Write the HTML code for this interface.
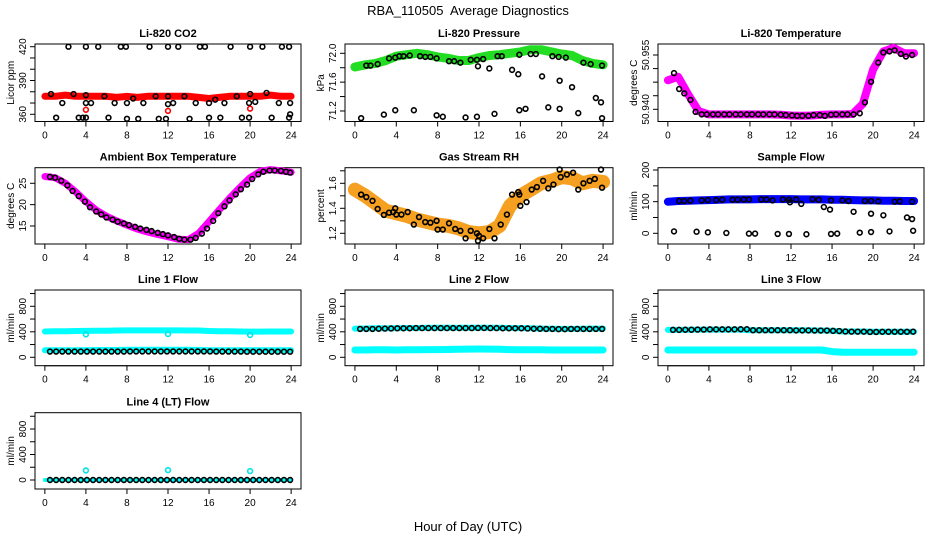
<!DOCTYPE html>
<html><head><meta charset="utf-8"><style>
html,body{margin:0;padding:0;background:#fff;}
svg{display:block;font-family:"Liberation Sans",sans-serif;}
</style></head><body>
<svg id="chart" width="936" height="540" viewBox="0 0 936 540" xmlns="http://www.w3.org/2000/svg">
<text x="468" y="15" text-anchor="middle" font-size="13" style="white-space:pre">RBA_110505  Average Diagnostics</text>
<text x="468" y="531" text-anchor="middle" font-size="13">Hour of Day (UTC)</text>
</svg>
<script>
// ---------- data ----------
const hourTicks = [0,4,8,12,16,20,24];
const bandHours = [0,1,2,3,4,5,6,7,8,9,10,11,12,13,14,15,16,17,18,19,20,21,22,23,24];
const evenHours = [0.5,1.1,1.7,2.3,2.9,3.5,4.1,4.7,5.3,5.9,6.5,7.1,7.7,8.3,8.9,9.5,10.1,10.7,11.3,11.9,12.5,13.1,13.7,14.3,14.9,15.5,16.1,16.7,17.3,17.9,18.5,19.1,19.7,20.3,20.9,21.5,22.1,22.7,23.3,23.9];

// CO2
const co2Band = [376,376,377,376,376,376,376,375,376,375,376,376,376,376,376,375,374,375,376,376,376,376,377,376,376];
const co2TopHours = [2.3,4,5.2,7.4,7.9,10.2,12,13,15.1,15.6,18.1,20,21.2,23.1,23.8];
const co2TopVals = [420,420,420,420,420,420,420,420,420,420,420,420,420,420,420];
const co2MidHours = [0.6,2.8,4,5.8,8.6,10.8,12,13.6,16.6,18.7,20,21.6];
const co2MidVals = [378,378,377,376,374,376,376,376,373,376,378,379];
const co2LowHours = [1.7,4,4.5,6.8,8,9.6,12,12.5,14.7,16,17.5,19.9,20.5,22.8,23.9];
const co2LowVals = [370,370,370,370,370,370,369,370,370,370,370,370,371,370,370];
const co2BotHours = [1.1,3.3,3.7,4,6.2,8,9.1,11.1,11.8,14.1,16,17.1,19.2,19.9,22.1,23.8,23.9];
const co2BotVals = [357,357,357,357,357,356,356,356,356,356,357,357,357,357,357,357,360];
const co2RedHours = [4,12,20];
const co2RedVals = [364,363,365];

// Pressure
const presBand = [71.81,71.84,71.86,71.9,71.96,71.98,72.0,71.98,71.95,71.93,71.9,71.9,71.94,71.97,71.98,72.0,72.02,72.05,72.05,72.02,71.99,71.97,71.9,71.86,71.84];
const presOnHours = [1.1,1.5,2.2,3.3,3.9,4.3,4.7,5.3,6.3,6.8,7.3,7.9,9.1,9.6,10.2,11.2,11.8,12.4,13.8,14.2,15.9,17,17.5,19.1,19.7,20.4,22.1,22.8,23.9];
const presOnVals = [71.83,71.83,71.85,71.93,71.94,71.96,71.96,71.97,71.96,71.95,71.95,71.93,71.89,71.89,71.87,71.91,71.91,71.92,71.96,71.96,71.98,71.99,71.99,71.96,71.95,71.94,71.87,71.85,71.83];
const presOffHours = [11.9,13,15.2,15.8,18.1,19.8,21,23.3,23.8];
const presOffVals = [71.82,71.79,71.77,71.71,71.68,71.62,71.53,71.38,71.32];
const presLowHours = [0.6,2.8,3.9,5.7,7.9,8.5,10.7,11.8,13.5,15.9,16.5,18.7,19.8,21.6,23.9];
const presLowVals = [71.1,71.15,71.21,71.21,71.14,71.12,71.11,71.12,71.16,71.21,71.23,71.25,71.23,71.17,71.1];

// Li-820 Temperature
const tempBand = [50.948,50.949,50.944,50.9395,50.9386,50.9386,50.9386,50.9386,50.9386,50.9386,50.9386,50.9385,50.9383,50.9382,50.9383,50.9385,50.9386,50.9386,50.9387,50.9415,50.951,50.956,50.957,50.9555,50.9555];
const tempPtHours = [0.6,1.1,1.6,2.2,2.7,3.3,3.8,4.4,4.9,5.5,6.0,6.6,7.1,7.7,8.2,8.8,9.3,9.9,10.4,11.0,11.5,12.1,12.6,13.1,13.7,14.2,14.8,15.3,15.9,16.4,17.0,17.5,18.1,18.7,19.2,19.8,20.5,21.0,21.6,22.1,22.7,23.2,23.8];
const tempPtVals = [50.950,50.9456,50.9444,50.9426,50.9393,50.9386,50.9386,50.9386,50.9386,50.9386,50.9386,50.9386,50.9386,50.9386,50.9386,50.9386,50.9386,50.9386,50.9386,50.9385,50.9384,50.9383,50.9382,50.9382,50.9382,50.9384,50.9384,50.9382,50.9385,50.9386,50.9386,50.9386,50.9386,50.9389,50.9419,50.9476,50.9529,50.9557,50.956,50.9563,50.9553,50.9546,50.955];

// Ambient box temperature
const ambBand = [26.6,26.3,25,23,20.7,18.7,17.3,16.2,15.2,14.3,13.6,13,12.5,11.9,11.8,13.3,16,18.8,21.5,24,26.3,27.8,28.2,27.9,27.6];
const ambPtHours = [0.5,1,1.6,2.2,2.7,3.3,3.9,4.4,5,5.5,6,6.6,7.1,7.7,8.2,8.8,9.3,9.9,10.4,11,11.5,12,12.6,13.1,13.6,14.2,14.7,15.3,15.8,16.4,16.9,17.5,18,18.6,19.1,19.7,20.2,20.8,21.3,21.9,22.4,23,23.5,23.9];
const ambPtVals = [26.5,26.3,25.6,24.5,23.2,22,20.7,19.4,18.4,17.7,17,16.5,16,15.6,15.2,14.8,14.4,14.1,13.8,13.4,13.1,12.8,12.4,12,11.8,11.8,12.2,13.2,14.4,16.2,18,19.6,21,22.4,23.6,24.7,26,27.1,27.7,28,28,27.9,27.7,27.5];

// Gas stream RH
const rhBand = [1.55,1.5,1.44,1.38,1.36,1.34,1.31,1.29,1.27,1.26,1.24,1.21,1.2,1.21,1.26,1.42,1.5,1.55,1.6,1.62,1.65,1.64,1.6,1.62,1.61];
const rhPtHours = [0.6,1.1,1.7,2.2,2.8,3.3,3.7,3.9,4,4.5,5.1,5.7,6.2,6.8,7.3,7.9,8,8.5,9.1,9.7,10.2,10.7,11.2,11.8,11.9,12,12.4,13,13.5,14.1,14.7,15.2,15.8,15.9,16,16.6,17.1,17.6,18.2,18.7,19.2,19.8,19.9,20.5,21.1,21.6,22.1,22.7,23.2,23.8,23.9];
const rhPtVals = [1.51,1.49,1.46,1.395,1.347,1.365,1.37,1.40,1.35,1.35,1.37,1.27,1.33,1.29,1.285,1.30,1.23,1.23,1.28,1.235,1.22,1.16,1.22,1.20,1.14,1.18,1.16,1.235,1.16,1.27,1.35,1.51,1.53,1.51,1.42,1.45,1.55,1.57,1.62,1.56,1.59,1.71,1.65,1.67,1.685,1.55,1.60,1.62,1.635,1.71,1.565];

// Sample flow
const sfBand = [100,102,103,104,105,106,107,107,107,108,108,108,108,107,107,107,106,106,105,104,104,103,103,102,102];
const sfOnHours = [1.1,1.6,2.2,3.3,3.9,4.7,5.3,6.3,6.8,7.4,7.9,9.1,9.6,10.2,11.2,11.8,12.5,14.1,14.7,15.9,17,17.6,19.2,19.8,20.5,22.1,22.6,23.8];
const sfOnVals = [102,102,103,104,105,105,106,106,106,107,107,107,107,104,107,106,107,108,106,104,104,102,102,102,101,100,101,100];
const sfOffHours = [11.9,13,15.2,15.8,18.1,19.8,21,23.3,23.8];
const sfOffVals = [98,93,83,75,68,62,57,50,45];
const sfLowHours = [0.6,2.8,3.9,5.7,7.9,8.5,10.7,11.8,13.5,15.9,16.5,18.7,19.8,21.6,23.9];
const sfLowVals = [6,5,3,1,-1,-1,-2,-2,-3,-2,-1,2,4,6,8];

// Line flows
const l1Upper = [405,408,410,412,414,416,418,420,422,422,422,422,422,422,420,420,412,410,408,405,403,403,404,405,405];
const l1Lower = [110,110,110,112,112,115,115,115,118,118,118,118,118,118,118,115,112,112,112,110,110,110,110,110,110];
const l1Black = [90,90,90,90,90,90,90,90,90,90,90,90,90,92,92,92,92,92,92,92,92,92,92,92,92,92,92,90,90,90,90,90,88,88,88,88,88,88,88,88];
const l1OutHours = [4,12,20];
const l1OutVals = [360,365,350];

const l2Upper = [450,452,455,455,455,460,460,462,462,462,462,462,465,465,462,460,458,455,450,448,445,445,448,450,450];
const l2Lower = [115,115,118,118,115,118,118,120,120,122,125,128,130,128,125,120,118,118,118,115,115,115,115,115,115];
const l2Black = [445,445,445,448,450,452,455,455,455,458,458,458,458,458,458,458,458,458,458,460,460,458,458,455,455,455,455,452,448,448,445,445,442,442,445,445,445,445,445,445];

const l3Upper = [430,430,432,435,435,435,435,435,425,425,425,425,425,425,422,420,415,405,405,405,400,400,400,400,400];
const l3Lower = [115,115,115,115,115,115,115,115,115,115,115,115,115,115,115,115,90,80,80,80,80,80,80,80,80];
const l3Black = [430,430,432,432,435,435,438,438,438,438,438,440,440,425,425,425,425,425,425,425,422,422,422,420,420,420,415,412,405,402,402,402,398,398,400,400,400,400,400,402];

const l4Black = [0,0,0,0,0,0,0,0,0,0,0,0,0,0,0,0,0,0,0,0,0,0,0,0,0,0,0,0,0,0,0,0,0,0,0,0,0,0,0,0];
const l4OutHours = [4,12,20];
const l4OutVals = [150,155,140];

// ---------- drawing ----------
const NS = "http://www.w3.org/2000/svg";
const svg = document.getElementById("chart");
function mk(tag, attrs, parent){ const e=document.createElementNS(NS,tag); for(const k in attrs) e.setAttribute(k,attrs[k]); (parent||svg).appendChild(e); return e; }

const cols = [[35,301],[345,613],[658,924]];
const rows = [[44,121.5],[167.7,244],[290,365.7],[412.7,489]];

function panel(name, title, col, row, yMin, yMax, ticks, labels, ylab){
  const [x0,x1]=cols[col], [y0,y1]=rows[row];
  const g = mk("g",{});
  
  
  const sx = h => x0 + (h + 0.96) / 25.92 * (x1 - x0);
  const sy = v => y1 - (v - yMin) / (yMax - yMin) * (y1 - y0);
  const t = mk("text",{x:(x0+x1)/2,y:y0-7,"text-anchor":"middle","font-size":"11","font-weight":"bold"},g);
  t.textContent = title;
  
  
  const fr = mk("rect",{x:x0,y:y0,width:x1-x0,height:y1-y0,fill:"none",stroke:"#000","stroke-width":"1"},g);
  
  
  const xa = mk("g",{},g);
  
  
  mk("line",{x1:sx(0),x2:sx(24),y1:y1,y2:y1,stroke:"#000"},xa);
  hourTicks.forEach(h=>{
    mk("line",{x1:sx(h),x2:sx(h),y1:y1,y2:y1+5,stroke:"#000"},xa);
    const l = mk("text",{x:sx(h),y:y1+17,"text-anchor":"middle","font-size":"10"},xa);
    l.textContent = h;
    
    
  });
  const ya = mk("g",{},g);
  
  
  mk("line",{x1:x0,x2:x0,y1:sy(ticks[0]),y2:sy(ticks[ticks.length-1]),stroke:"#000"},ya);
  ticks.forEach((v,i)=>{
    mk("line",{x1:x0-5,x2:x0,y1:sy(v),y2:sy(v),stroke:"#000"},ya);
    if(labels[i]!==""){
      const l = mk("text",{x:0,y:0,"text-anchor":"middle","font-size":"10",transform:`translate(${x0-9},${sy(v)}) rotate(-90)`},ya);
      l.textContent = labels[i];
      
      
    }
  });
  const yl = mk("text",{x:0,y:0,"text-anchor":"middle","font-size":"10",transform:`translate(${x0-21},${(y0+y1)/2}) rotate(-90)`},g);
  yl.textContent = ylab;
  
  
  return {g,sx,sy};
}
function band(p, hours, vals, color, w, nm){
  const pts = hours.map((h,i)=>p.sx(h).toFixed(1)+","+p.sy(vals[i]).toFixed(1)).join(" ");
  const pl = mk("polyline",{points:pts,fill:"none",stroke:color,"stroke-width":w,"stroke-linejoin":"round","stroke-linecap":"round"},p.g);
  
  
}
function dots(p, hours, vals, color, nm){
  const grp = mk("g",{},p.g);
  
  
  hours.forEach((h,i)=>{
    const c = mk("circle",{cx:p.sx(h),cy:p.sy(vals[i]),r:"2.4",fill:"none",stroke:color,"stroke-width":"1.6"},grp);
    
    
  });
}

let p;
p = panel("co2","Li-820 CO2",0,0,353.6,422.4,[360,370,380,390,400,410,420],["360","","","390","","","420"],"Licor ppm");
band(p,bandHours,co2Band,"#ff0000",7,"co2-band");
dots(p,co2TopHours,co2TopVals,"#000","co2-points-top");
dots(p,co2MidHours,co2MidVals,"#000","co2-points-mid");
dots(p,co2LowHours,co2LowVals,"#000","co2-points-low");
dots(p,co2BotHours,co2BotVals,"#000","co2-points-bottom");
dots(p,co2RedHours,co2RedVals,"#ff0000","co2-red-outliers");

p = panel("pressure","Li-820 Pressure",1,0,71.054,72.129,[71.2,71.4,71.6,71.8,72.0],["71.2","","71.6","","72.0"],"kPa");
band(p,bandHours,presBand,"#22dd22",9,"pressure-band");
dots(p,presOnHours,presOnVals,"#000","pressure-points");
dots(p,presOffHours,presOffVals,"#000","pressure-points-declining");
dots(p,presLowHours,presLowVals,"#000","pressure-points-low");

p = panel("temperature","Li-820 Temperature",2,0,50.93663,50.95804,[50.9400,50.94375,50.9475,50.95125,50.955],["50.940","","","","50.955"],"degrees C");
band(p,bandHours,tempBand,"#ff00ff",8,"temperature-band");
dots(p,tempPtHours,tempPtVals,"#000","temperature-points");

p = panel("ambient","Ambient Box Temperature",0,1,10.78,28.65,[15,20,25],["15","20","25"],"degrees C");
band(p,bandHours,ambBand,"#ff00ff",7,"ambient-band");
dots(p,ambPtHours,ambPtVals,"#000","ambient-points");

p = panel("rh","Gas Stream RH",1,1,1.1144,1.7248,[1.2,1.3,1.4,1.5,1.6,1.7],["1.2","","1.4","","1.6",""],"percent");
band(p,bandHours,rhBand,"#f5a020",14,"rh-band");
dots(p,rhPtHours,rhPtVals,"#000","rh-points");

p = panel("sample-flow","Sample Flow",2,1,-33.8,207.3,[0,50,100,150,200],["0","","100","","200"],"ml/min");
band(p,bandHours,sfBand,"#0000ff",8,"sample-flow-band");
dots(p,sfOnHours,sfOnVals,"#000","sample-flow-points");
dots(p,sfOffHours,sfOffVals,"#000","sample-flow-points-declining");
dots(p,sfLowHours,sfLowVals,"#000","sample-flow-points-low");

const flowTicks=[0,200,400,600,800,1000], flowLabels=["0","","400","","800",""];
p = panel("line1","Line 1 Flow",0,2,-131.8,1055.7,flowTicks,flowLabels,"ml/min");
band(p,bandHours,l1Upper,"#00ffff",6,"line1-upper-band");
band(p,bandHours,l1Lower,"#00ffff",6,"line1-lower-band");
dots(p,evenHours,l1Black,"#000","line1-points");
dots(p,l1OutHours,l1OutVals,"#00e5e5","line1-outliers");

p = panel("line2","Line 2 Flow",1,2,-131.8,1055.7,flowTicks,flowLabels,"ml/min");
band(p,bandHours,l2Upper,"#00ffff",6,"line2-upper-band");
band(p,bandHours,l2Lower,"#00ffff",7,"line2-lower-band");
dots(p,evenHours,l2Black,"#000","line2-points");

p = panel("line3","Line 3 Flow",2,2,-131.8,1055.7,flowTicks,flowLabels,"ml/min");
band(p,bandHours,l3Upper,"#00ffff",6,"line3-upper-band");
band(p,bandHours,l3Lower,"#00ffff",7,"line3-lower-band");
dots(p,evenHours,l3Black,"#000","line3-points");

p = panel("line4","Line 4 (LT) Flow",0,3,-141,1055.7,flowTicks,flowLabels,"ml/min");
band(p,bandHours,l4Black,"#00ffff",4,"line4-band");
dots(p,evenHours,l4Black,"#000","line4-points");
dots(p,l4OutHours,l4OutVals,"#00e5e5","line4-outliers");
</script>
</body></html>
